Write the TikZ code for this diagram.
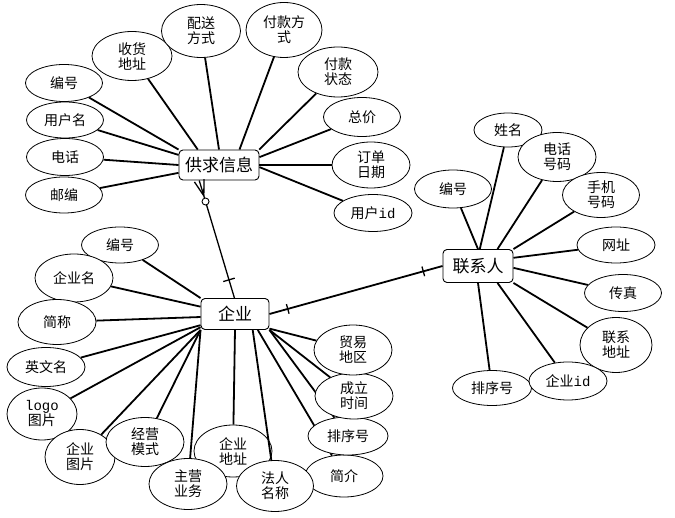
\documentclass[tikz,border=0pt]{standalone}
\usepackage{fontspec}
\setmainfont{Noto Sans CJK SC}
\setmonofont{Liberation Mono}
\usetikzlibrary{shapes.geometric,calc}

\tikzset{
  attr/.style={draw, ellipse, fill=white, inner sep=0pt, align=center,
    line width=0.8pt, font=\fontsize{14}{15}\selectfont},
  entity/.style={draw, rounded corners=4pt, fill=white, inner sep=0pt,
    line width=0.9pt, font=\fontsize{17}{18}\selectfont},
  link/.style={line width=1.8pt},
  rel/.style={line width=1.3pt},
}

\begin{document}
\begin{tikzpicture}[x=1pt,y=-1pt]
  \useasboundingbox (0,0) rectangle (675,518);
  % entities
  \node[entity, minimum width=80pt, minimum height=30pt] (gq) at (219,165) {供求信息};
  \node[entity, minimum width=68pt, minimum height=31pt] (qy) at (235,314) {企业};
  \node[entity, minimum width=70pt, minimum height=33pt] (lx) at (478,266) {联系人};

  % attributes of 供求信息
  \foreach \nm/\pos/\ew/\eh/\txt/\an in {
    g1/{64,83}/77/37/编号/north west,
    g2/{65,120}/77/36/用户名/166,
    g3/{65,157}/77/37/电话/west,
    g4/{64,195}/77/36/邮编/191,
    g5/{132,56}/80/49/{收货\\地址}/144,
    g6/{201,31}/79/53/{配送\\方式}/north,
    g7/{284,30}/76/55/{付款方\\式}/37,
    g8/{338,72}/80/50/{付款\\状态}/21,
    g9/{362,117}/77/39/总价/11,
    g10/{371,165}/78/46/{订单\\日期}/east,
    g11/{373,213}/78/37/{用户\texttt{id}}/357}
  {
    \node[attr, minimum width=\ew pt, minimum height=\eh pt] (\nm) at (\pos) {\txt};
    \draw[link] (\nm) -- (gq.\an);
  }

  % attributes of 企业
  \foreach \nm/\pos/\ew/\eh/\txt/\an in {
    q1/{120,245}/77/36/编号/north west,
    q2/{74,278}/78/48/企业名/168,
    q3/{57,322}/78/45/简称/185,
    q4/{46,367}/78/39/英文名/198,
    q5/{42,414}/70/52/{\texttt{logo}\\图片}/201,
    q6/{80,457}/70/55/{企业\\图片}/south west,
    q7/{145,442}/78/49/{经营\\模式}/south west,
    q8/{233,451}/78/52/{企业\\地址}/south,
    q9/{188,484}/78/51/{主营\\业务}/south west,
    q10/{344,476}/78/42/简介/325,
    q11/{275,486}/77/51/{法人\\名称}/318,
    q12/{348,436}/80/38/排序号/south east,
    q13/{354,396}/78/46/{成立\\时间}/south east,
    q14/{353,350}/78/50/{贸易\\地区}/337}
  {
    \node[attr, minimum width=\ew pt, minimum height=\eh pt] (\nm) at (\pos) {\txt};
    \draw[link] (\nm) -- (qy.\an);
  }

  % attributes of 联系人
  \foreach \nm/\pos/\ew/\eh/\txt/\an in {
    l1/{453,189}/77/38/编号/north,
    l2/{508,130}/68/34/姓名/84,
    l3/{557,157}/78/49/{电话\\号码}/41,
    l4/{601,195}/77/45/{手机\\号码}/north east,
    l5/{616,245}/78/36/网址/13,
    l6/{623,293}/77/37/传真/357,
    l7/{616,345}/72/55/{联系\\地址}/south east,
    l9/{492,388}/79/35/排序号/south,
    l8/{568,381}/78/38/{企业\texttt{id}}/319}
  {
    \node[attr, minimum width=\ew pt, minimum height=\eh pt] (\nm) at (\pos) {\txt};
    \draw[link] (\nm) -- (lx.\an);
  }

  % 供求信息 -- 企业
  \coordinate (r1a) at (gq.218);
  \coordinate (r1b) at (qy.92);
  \coordinate (r1f) at ($(r1a)!16pt!(r1b)$);
  \coordinate (r1m) at ($(r1b)!19pt!(r1a)$);
  \draw[rel] (r1a) -- (r1b);
  \draw[rel] (r1f) -- ($(r1a)!5pt!90:(r1b)$) (r1f) -- ($(r1a)!5pt!-90:(r1b)$);
  \draw[rel] ($(r1m)!6pt!90:(r1b)$) -- ($(r1m)!6pt!-90:(r1b)$);
  \node[circle, draw, fill=white, inner sep=0pt, minimum size=7pt, line width=0.9pt]
    (r1c) at ($(r1a)!22pt!(r1b)$) {};

  % 企业 -- 联系人
  \coordinate (r2a) at (qy.east);
  \coordinate (r2b) at (lx.west);
  \coordinate (r2m) at ($(r2a)!19pt!(r2b)$);
  \coordinate (r2n) at ($(r2b)!20pt!(r2a)$);
  \draw[link] (r2a) -- (r2b);
  \draw[rel] ($(r2m)!5pt!90:(r2b)$) -- ($(r2m)!5pt!-90:(r2b)$);
  \draw[rel] ($(r2n)!5pt!90:(r2a)$) -- ($(r2n)!5pt!-90:(r2a)$);
\end{tikzpicture}
\end{document}
